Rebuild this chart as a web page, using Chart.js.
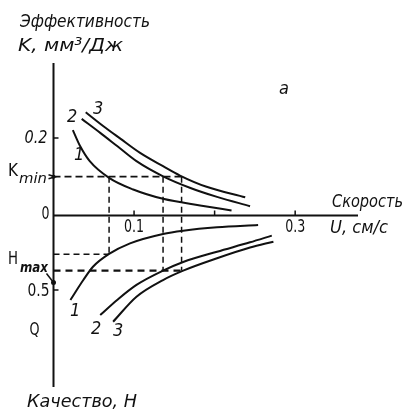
<!DOCTYPE html>
<html>
<head>
<meta charset="utf-8">
<script src="https://cdn.jsdelivr.net/npm/chart.js@4/dist/chart.umd.min.js"></script>
<style>
  html, body { margin: 0; padding: 0; background: #fff; }
</style>
</head>
<body>
<canvas id="chart" width="409" height="411"></canvas>
<script>
// upper half: efficiency K (mm3/J) vs speed U (cm/s)
const speedK1 = [0.024, 0.033, 0.045, 0.069, 0.099, 0.136, 0.182, 0.221];
const effK1   = [0.220, 0.179, 0.140, 0.097, 0.067, 0.043, 0.026, 0.013];
const speedK2 = [0.035, 0.058, 0.079, 0.103, 0.136, 0.170, 0.203, 0.244];
const effK2   = [0.249, 0.213, 0.179, 0.140, 0.101, 0.071, 0.048, 0.024];
const speedK3 = [0.040, 0.062, 0.083, 0.107, 0.136, 0.157, 0.190, 0.238];
const effK3   = [0.266, 0.230, 0.198, 0.162, 0.127, 0.103, 0.074, 0.047];

// lower half: quality H vs speed U (drawn downwards)
const speedH1 = [0.021, 0.037, 0.049, 0.069, 0.095, 0.136, 0.161, 0.203, 0.254];
const qualH1  = [0.567, 0.433, 0.344, 0.258, 0.187, 0.124, 0.102, 0.079, 0.064];
const speedH2 = [0.058, 0.079, 0.103, 0.136, 0.161, 0.203, 0.244, 0.271];
const qualH2  = [0.668, 0.567, 0.466, 0.370, 0.312, 0.243, 0.180, 0.135];
const speedH3 = [0.074, 0.103, 0.136, 0.161, 0.203, 0.244, 0.273];
const qualH3  = [0.713, 0.545, 0.433, 0.370, 0.287, 0.215, 0.176];

// construction lines
const kMin = 0.1;
const hMax = 0.37;
const hLevel = 0.26;
const crossSpeeds = [0.069, 0.136, 0.159];

const xTicks = [0.1, 0.2, 0.3];
const xTickLabels = ['0.1', '', '0.3'];

// H is plotted below the speed axis with its own scale
const H_SCALE = 0.384;
const hy = h => -h * H_SCALE;

const pts = (xs, ys, f) => xs.map((x, i) => ({ x: x, y: f ? f(ys[i]) : ys[i] }));

function curve(data) {
    return {
        data: data,
        borderColor: '#111',
        borderWidth: 2,
        pointRadius: 0,
        fill: false,
        cubicInterpolationMode: 'monotone'
    };
}

function dashed(data, dash, width) {
    return {
        data: data,
        borderColor: '#111',
        borderWidth: width || 1.5,
        borderDash: dash || [6, 4],
        pointRadius: 0,
        fill: false,
        tension: 0
    };
}

const datasets = [
    curve(pts(speedK1, effK1)),
    curve(pts(speedK2, effK2)),
    curve(pts(speedK3, effK3)),
    curve(pts(speedH1, qualH1, hy)),
    curve(pts(speedH2, qualH2, hy)),
    curve(pts(speedH3, qualH3, hy)),
    dashed([{ x: 0, y: kMin }, { x: crossSpeeds[2], y: kMin }], [7, 4], 1.8),
    dashed([{ x: crossSpeeds[0], y: kMin }, { x: crossSpeeds[0], y: hy(hLevel) }]),
    dashed([{ x: crossSpeeds[1], y: kMin }, { x: crossSpeeds[1], y: hy(hMax) }]),
    dashed([{ x: crossSpeeds[2], y: kMin }, { x: crossSpeeds[2], y: hy(hMax) }]),
    dashed([{ x: 0, y: hy(hLevel) }, { x: crossSpeeds[0], y: hy(hLevel) }]),
    dashed([{ x: 0, y: hy(hMax) }, { x: crossSpeeds[2], y: hy(hMax) }], [7, 5], 2.4)
];

const FONT = '"DejaVu Sans Condensed", "DejaVu Sans", sans-serif';

function txt(ctx, s, x, y, size, opts) {
    opts = opts || {};
    ctx.save();
    ctx.font = (opts.italic === false ? '' : 'italic ') + (opts.bold ? 'bold ' : '') + size + 'px ' + FONT;
    ctx.fillStyle = '#111';
    ctx.textBaseline = 'middle';
    ctx.textAlign = 'left';
    let w = ctx.measureText(s).width;
    let sx = opts.width ? opts.width / w : 1;
    let left = x;
    if (opts.align === 'center') left = x - w * sx / 2;
    if (opts.align === 'right') left = x - w * sx;
    ctx.translate(left, y);
    ctx.scale(sx, 1);
    ctx.fillText(s, 0, 0);
    ctx.restore();
}

const axesPlugin = {
    id: 'axesPlugin',
    afterDatasetsDraw(chart) {
        const ctx = chart.ctx;
        const xs = chart.scales.x, ys = chart.scales.y;
        const x0 = xs.getPixelForValue(0);
        const y0 = ys.getPixelForValue(0);

        ctx.save();
        ctx.strokeStyle = '#111';
        ctx.lineWidth = 2;
        ctx.beginPath();
        ctx.moveTo(x0, ys.getPixelForValue(ys.max));
        ctx.lineTo(x0, ys.getPixelForValue(ys.min));
        ctx.moveTo(x0, y0);
        ctx.lineTo(xs.getPixelForValue(xs.max), y0);
        ctx.stroke();

        // ticks
        ctx.lineWidth = 1.5;
        ctx.beginPath();
        xTicks.forEach(v => {
            const px = xs.getPixelForValue(v);
            ctx.moveTo(px, y0);
            ctx.lineTo(px, y0 - 5);
        });
        [0.2].forEach(v => {
            const py = ys.getPixelForValue(v);
            ctx.moveTo(x0, py);
            ctx.lineTo(x0 + 5, py);
        });
        [0.5].forEach(v => {
            const py = ys.getPixelForValue(hy(v));
            ctx.moveTo(x0, py);
            ctx.lineTo(x0 + 5, py);
        });
        ctx.stroke();

        // K_min marker
        const pk = ys.getPixelForValue(kMin);
        ctx.beginPath();
        ctx.moveTo(x0 - 5, pk - 2);
        ctx.lineTo(x0 + 2, pk);
        ctx.lineTo(x0 - 5, pk + 2);
        ctx.stroke();
        ctx.beginPath();
        ctx.arc(x0, pk, 2, 0, Math.PI * 2);
        ctx.fillStyle = '#111';
        ctx.fill();

        // H_max marker with leader
        const phm = ys.getPixelForValue(hy(0.45));
        ctx.beginPath();
        ctx.moveTo(x0 - 7, phm - 9);
        ctx.lineTo(x0, phm);
        ctx.stroke();
        ctx.beginPath();
        ctx.arc(x0, phm, 2.5, 0, Math.PI * 2);
        ctx.fill();
        ctx.restore();

        // tick labels
        xTicks.forEach((v, i) => {
            if (xTickLabels[i]) txt(ctx, xTickLabels[i], xs.getPixelForValue(v), y0 + 12, 18, { italic: false, align: 'center', width: 20 });
        });
        txt(ctx, '0.2', x0 - 6, ys.getPixelForValue(0.2), 18, { italic: true, align: 'right', width: 23 });
        txt(ctx, '0', x0 - 4, y0 - 1, 18, { italic: false, align: 'right', width: 8 });
        txt(ctx, '0.5', x0 - 4, ys.getPixelForValue(hy(0.5)) + 1, 18, { italic: false, align: 'right', width: 22 });
        txt(ctx, 'Q', x0 - 14, ys.getPixelForValue(hy(0.77)), 17, { italic: false, align: 'right', width: 10 });

        txt(ctx, 'K', 8, pk - 5, 17, { italic: false, width: 10 });
        txt(ctx, 'min', 19, pk + 3, 14, { width: 28 });
        txt(ctx, 'H', 8, 260, 17, { italic: false, width: 10 });
        txt(ctx, 'max', 20, 268, 14, { bold: true, width: 28 });

        // titles
        txt(ctx, 'Эффективность', 20, 22, 18, { width: 130 });
        txt(ctx, 'K, мм³/Дж', 18, 46, 18, { width: 105 });
        txt(ctx, 'а', 279, 89, 18);
        txt(ctx, 'Скорость', 332, 202, 18, { width: 71 });
        txt(ctx, 'U, см/с', 330, 228, 18, { width: 58 });
        txt(ctx, 'Качество, Н', 27, 402, 18, { width: 110 });

        // curve numbers
        txt(ctx, '1', 74, 155, 18);
        txt(ctx, '2', 67, 117, 18);
        txt(ctx, '3', 93, 109, 18);
        txt(ctx, '1', 70, 311, 18);
        txt(ctx, '2', 91, 329, 18);
        txt(ctx, '3', 113, 331, 18);
    }
};

new Chart(document.getElementById('chart'), {
    type: 'line',
    data: { datasets: datasets },
    options: {
        responsive: false,
        animation: false,
        layout: { padding: { left: 53.5, top: 63, right: 51, bottom: 24 } },
        plugins: { legend: { display: false }, tooltip: { enabled: false } },
        scales: {
            x: { type: 'linear', min: 0, max: 0.378, display: false },
            y: { type: 'linear', min: -0.442, max: 0.393, display: false }
        }
    },
    plugins: [axesPlugin]
});
</script>
</body>
</html>
